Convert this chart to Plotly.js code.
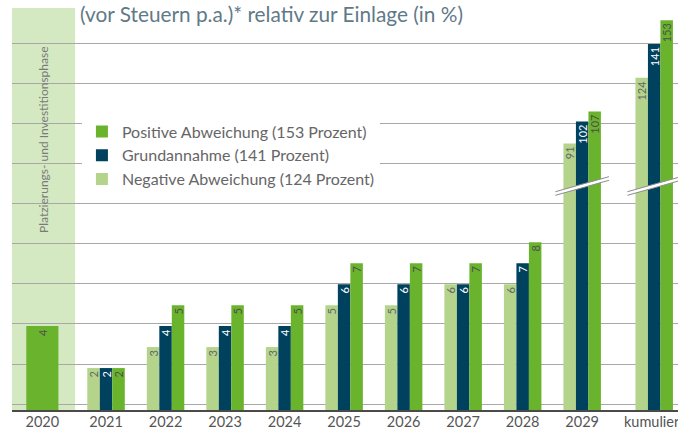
<!DOCTYPE html>
<html><head><meta charset="utf-8">
<script src="https://cdn.plot.ly/plotly-3.0.1.min.js"></script>
<style>html,body{margin:0;padding:0;background:#fff}#chart{width:678px;height:432px}</style>
</head><body><div id="chart"></div>
<script>
// ---- data ----
const categories = ['2020','2021','2022','2023','2024','2025','2026','2027','2028','2029','kumuliert'];
const startYear = ['2020'];
const startValue = [4];
const years = ['2021','2022','2023','2024','2025','2026','2027','2028'];
const negative = [2,3,3,3,5,5,6,6];
const basis    = [2,4,4,4,6,6,6,7];
const positive = [2,5,5,5,7,7,7,8];
const brokenCats = ['2029','kumuliert'];
const negativeBroken = [91,124];
const basisBroken    = [102,141];
const positiveBroken = [107,153];
const seriesNames = ['Negative Abweichung (124 Prozent)','Grundannahme (141 Prozent)','Positive Abweichung (153 Prozent)'];
const phaseLabel = 'Platzierungs- und Investitionsphase';
const titleText = '(vor Steuern p.a.)* relativ zur Einlage (in %)';

// ---- layout constants ----
const slotPos = [-0.07,1,2,3,4,5,6,7,8,9,10.21];
const posOf = c => slotPos[categories.indexOf(c)];
const COL = {neg:'#b4d48c', bas:'#00415e', pos:'#6ab42d', band:'#d4e9c1'};
const TXT = {neg:'#666666', bas:'#ffffff', pos:'#4f4f4f'};
const BAR_W = 0.21;
const OFFS = [-0.315,-0.105,0.105];
const Y_TOP = 19.17;
const BREAK_F = 0.5572;
const UPPER_RANGE = [69.6,159.1];
const FONT = 'Lato, "Open Sans", sans-serif';

function bar(name, x, y, color, tcol, offset, width, yaxis, withText, showlegend, group){
  return {
    type:'bar', name:name, x:x, y:y, yaxis:yaxis, width:width, offset:offset,
    marker:{color:color, line:{width:0}},
    text: withText ? y.map(String) : undefined,
    textposition: withText ? 'inside' : 'none',
    insidetextanchor:'end', textangle:-90,
    textfont:{family:FONT, size:11, color:tcol},
    showlegend:showlegend, legendgroup:group, hoverinfo:'skip'
  };
}

const sets = [
  {k:'neg', v:negative, vb:negativeBroken},
  {k:'bas', v:basis, vb:basisBroken},
  {k:'pos', v:positive, vb:positiveBroken}
];
const traces = [];
sets.forEach((s,i)=>{
  traces.push(bar(seriesNames[i], years.map(posOf), s.v, COL[s.k], TXT[s.k], OFFS[i], BAR_W, 'y', true, true, s.k));
});
traces.push(bar('2020', startYear.map(posOf), startValue, COL.pos, TXT.pos, -0.27, 0.54, 'y', true, false, 'pos'));
sets.forEach((s,i)=>{
  traces.push(bar(seriesNames[i], brokenCats.map(posOf), s.vb, COL[s.k], TXT[s.k], OFFS[i], BAR_W, 'y2', false, false, s.k));
  traces.push(bar(seriesNames[i], brokenCats.map(posOf), s.vb, COL[s.k], TXT[s.k], OFFS[i], BAR_W, 'y3', true, false, s.k));
});

const shapes = [{
  type:'rect', xref:'x', yref:'paper', x0:-0.6, x1:0.48, y0:0, y1:1,
  fillcolor:COL.band, line:{width:0}, layer:'below'
}];
const rise = 0.0187, th = 0.0045, hw = 0.45;
brokenCats.forEach(c=>{
  const s = posOf(c), f = BREAK_F;
  shapes.push({type:'path', xref:'x', yref:'paper', layer:'above',
    path:`M ${s-hw},${f-rise-th} L ${s+hw},${f+rise-th} L ${s+hw},${f+rise+th} L ${s-hw},${f-rise+th} Z`,
    fillcolor:'#ffffff', line:{width:0}});
  [-th, th].forEach(d=>{
    shapes.push({type:'line', xref:'x', yref:'paper', layer:'above',
      x0:s-hw, x1:s+hw, y0:f-rise+d, y1:f+rise+d, line:{color:'#8c8c8c', width:1}});
  });
});

const layout = {
  width:678, height:432,
  margin:{l:12, r:0, t:8, b:22, pad:0},
  paper_bgcolor:'#ffffff', plot_bgcolor:'rgba(0,0,0,0)',
  barmode:'overlay',
  showlegend:true,
  uniformtext:{minsize:11, mode:'show'},
  title:{text:titleText, font:{family:FONT, size:20.8, color:'#5f7a87'},
    xref:'paper', yref:'container', x:0.102, xanchor:'left', y:0.966, yanchor:'middle', pad:{t:0, b:0, l:0, r:0}},
  xaxis:{type:'linear', range:[-0.58,10.61], tickmode:'array', tickvals:slotPos, ticktext:categories,
    showgrid:false, zeroline:false, showline:true, linecolor:'#4a4a4a', linewidth:2, ticks:'',
    tickfont:{family:FONT, size:14.5, color:'#555555'}, anchor:'y', fixedrange:true,
    ticklabelstandoff:-2, ticklabeloverflow:'allow'},
  yaxis:{domain:[0,1], range:[0,Y_TOP], showgrid:true, gridcolor:'#a8a8a8', gridwidth:1,
    tickmode:'linear', tick0:2.19, dtick:1.912, showticklabels:false, zeroline:false, showline:false, ticks:'', fixedrange:true},
  yaxis2:{domain:[0,BREAK_F], range:[0,BREAK_F*Y_TOP], visible:false, anchor:'x', fixedrange:true},
  yaxis3:{domain:[BREAK_F,1], range:UPPER_RANGE, visible:false, anchor:'x', fixedrange:true},
  legend:{x:0.105, y:0.735, xanchor:'left', yanchor:'top', traceorder:'reversed', bgcolor:'#ffffff',
    font:{family:FONT, size:16, color:'#666666'}, borderwidth:0},
  shapes:shapes,
  annotations:[{text:phaseLabel, xref:'x', yref:'paper', x:-0.06, y:0.674, xanchor:'center', yanchor:'middle',
    textangle:-90, showarrow:false, font:{family:FONT, size:12, color:'#7a7a7a'}}]
};

Plotly.newPlot('chart', traces, layout, {displayModeBar:false, staticPlot:true});
</script></body></html>
